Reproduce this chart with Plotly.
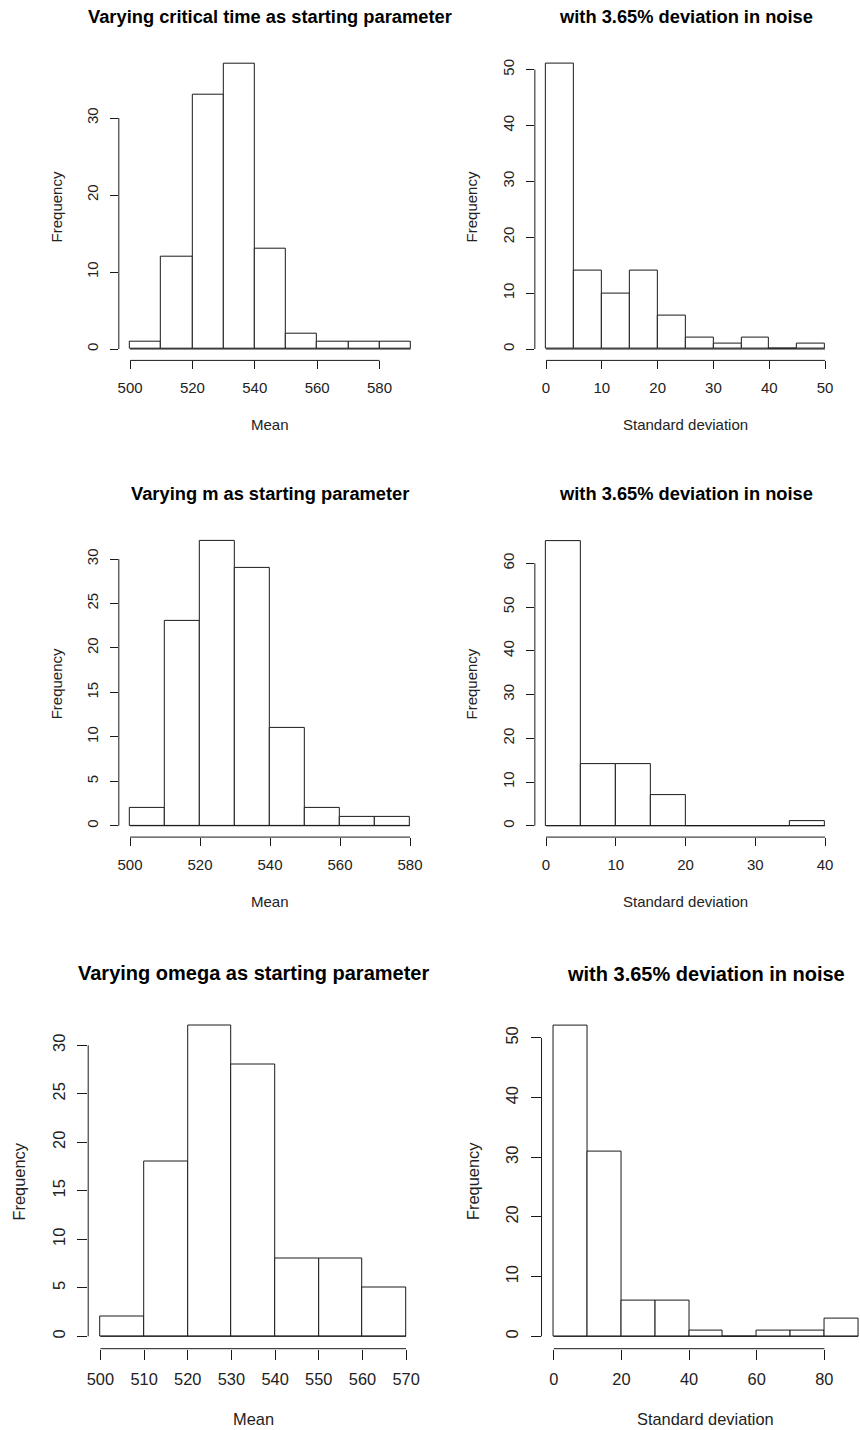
import plotly.graph_objects as go

W, H = 860, 1430

# ---- data ----
crit_breaks = [500, 510, 520, 530, 540, 550, 560, 570, 580, 590]
crit_counts = [1, 12, 33, 37, 13, 2, 1, 1, 1]
crit_sd_breaks = [0, 5, 10, 15, 20, 25, 30, 35, 40, 45, 50]
crit_sd_counts = [51, 14, 10, 14, 6, 2, 1, 2, 0, 1]
m_breaks = [500, 510, 520, 530, 540, 550, 560, 570, 580]
m_counts = [2, 23, 32, 29, 11, 2, 1, 1]
m_sd_breaks = [0, 5, 10, 15, 20, 25, 30, 35, 40]
m_sd_counts = [65, 14, 14, 7, 0, 0, 0, 1]
om_breaks = [500, 510, 520, 530, 540, 550, 560, 570]
om_counts = [2, 18, 32, 28, 8, 8, 5]
om_sd_breaks = [0, 10, 20, 30, 40, 50, 60, 70, 80, 90]
om_sd_counts = [52, 31, 6, 6, 1, 0, 1, 1, 3]

crit_xticks = [500, 520, 540, 560, 580]
crit_yticks = [0, 10, 20, 30]
crit_sd_xticks = [0, 10, 20, 30, 40, 50]
crit_sd_yticks = [0, 10, 20, 30, 40, 50]
m_xticks = [500, 520, 540, 560, 580]
m_yticks = [0, 5, 10, 15, 20, 25, 30]
m_sd_xticks = [0, 10, 20, 30, 40]
m_sd_yticks = [0, 10, 20, 30, 40, 50, 60]
om_xticks = [500, 510, 520, 530, 540, 550, 560, 570]
om_yticks = [0, 5, 10, 15, 20, 25, 30]
om_sd_xticks = [0, 20, 40, 60, 80]
om_sd_yticks = [0, 10, 20, 30, 40, 50]

titles = ["Varying critical time as starting parameter", "with 3.65% deviation in noise",
          "Varying m as starting parameter", "with 3.65% deviation in noise",
          "Varying omega as starting parameter", "with 3.65% deviation in noise"]
xlabels = ["Mean", "Standard deviation", "Mean", "Standard deviation", "Mean", "Standard deviation"]
ylabel = "Frequency"

# ---- layout geometry (pixels) ----
panels = [
    dict(b=crit_breaks, c=crit_counts, xt=crit_xticks, yt=crit_yticks,
         box=(118.1, 421.9, 52.7, 360.4), ty=16, xly=424, yly=56, fs=15, ts=18.3, tl=8),
    dict(b=crit_sd_breaks, c=crit_sd_counts, xt=crit_sd_xticks, yt=crit_sd_yticks,
         box=(535.1, 837.2, 52.6, 360.4), ty=16, xly=424, yly=472, fs=15, ts=18.3, tl=8),
    dict(b=m_breaks, c=m_counts, xt=m_xticks, yt=m_yticks,
         box=(118.1, 421.2, 529.9, 837.1), ty=493, xly=901, yly=56, fs=15, ts=18.3, tl=8),
    dict(b=m_sd_breaks, c=m_sd_counts, xt=m_sd_xticks, yt=m_sd_yticks,
         box=(535.1, 837.2, 530.1, 837.1), ty=493, xly=901, yly=472, fs=15, ts=18.3, tl=8),
    dict(b=om_breaks, c=om_counts, xt=om_xticks, yt=om_yticks,
         box=(87.4, 418.3, 1013.5, 1348.7), ty=973, xly=1419, yly=18.5, fs=16.4, ts=20, tl=10),
    dict(b=om_sd_breaks, c=om_sd_counts, xt=om_sd_xticks, yt=om_sd_yticks,
         box=(541.8, 871.4, 1013.6, 1348.7), ty=974, xly=1419, yly=473, fs=16.4, ts=20, tl=10),
]

LINE = "#1a1a1a"
FONT = "Liberation Sans, Arial, sans-serif"

fig = go.Figure()
shapes = []
annotations = []

for i, p in enumerate(panels):
    k = "" if i == 0 else str(i + 1)
    xa, ya = "x" + k, "y" + k
    b, c = p["b"], p["c"]
    x0p, x1p, y0p, y1p = p["box"]
    span = b[-1] - b[0]
    xr = [b[0] - 0.04 * span, b[-1] + 0.04 * span]
    ymax = max(c)
    yr = [-0.04 * ymax, 1.04 * ymax]
    # clip plot region to canvas
    if x1p > W:
        xr[1] = xr[0] + (xr[1] - xr[0]) * (W - x0p) / (x1p - x0p)
        x1p = W
    centers = [(b[j] + b[j + 1]) / 2 for j in range(len(c))]
    widths = [b[j + 1] - b[j] for j in range(len(c))]
    fig.add_trace(go.Bar(x=centers, y=c, width=widths, xaxis=xa, yaxis=ya,
                         marker=dict(color="white", line=dict(color=LINE, width=1)),
                         showlegend=False, hoverinfo="x+y"))
    # zero-height bins baseline
    fig.add_trace(go.Scatter(x=[b[0], b[-1]], y=[0, 0], mode="lines", xaxis=xa, yaxis=ya,
                             line=dict(color=LINE, width=1), showlegend=False, hoverinfo="skip"))
    common = dict(showgrid=False, zeroline=False, showline=False, ticks="outside",
                  tickcolor=LINE, tickwidth=1, ticklen=p["tl"],
                  tickfont=dict(family=FONT, size=p["fs"], color="#222"), fixedrange=True)
    fig.layout["xaxis" + k] = dict(domain=[x0p / W, x1p / W], range=xr, anchor=ya,
                                   tickvals=p["xt"], ticktext=[str(v) for v in p["xt"]],
                                   ticklabelstandoff=6, **common)
    fig.layout["yaxis" + k] = dict(domain=[1 - y1p / H, 1 - y0p / H], range=yr, anchor=xa,
                                   tickvals=p["yt"], ticktext=[str(v) for v in p["yt"]],
                                   tickangle=-90, ticklabelstandoff=6, **common)
    shapes.append(dict(type="line", xref=xa, yref=ya + " domain", x0=p["xt"][0], x1=p["xt"][-1],
                       y0=0, y1=0, line=dict(color=LINE, width=1)))
    shapes.append(dict(type="line", xref=xa + " domain", yref=ya, x0=0, x1=0,
                       y0=p["yt"][0], y1=p["yt"][-1], line=dict(color=LINE, width=1)))
    cx = (p["box"][0] + p["box"][1]) / 2
    cy = (y0p + y1p) / 2
    annotations.append(dict(text="<b>" + titles[i] + "</b>", xref="paper", yref="paper",
                            x=cx / W, y=1 - p["ty"] / H, xanchor="center", yanchor="middle",
                            showarrow=False, font=dict(family=FONT, size=p["ts"], color="black")))
    annotations.append(dict(text=xlabels[i], xref="paper", yref="paper",
                            x=cx / W, y=1 - p["xly"] / H, xanchor="center", yanchor="middle",
                            showarrow=False, font=dict(family=FONT, size=p["fs"], color="#222")))
    annotations.append(dict(text=ylabel, xref="paper", yref="paper", textangle=-90,
                            x=p["yly"] / W, y=1 - cy / H, xanchor="center", yanchor="middle",
                            showarrow=False, font=dict(family=FONT, size=p["fs"], color="#222")))

fig.update_layout(width=W, height=H, margin=dict(l=0, r=0, t=0, b=0),
                  paper_bgcolor="white", plot_bgcolor="white",
                  shapes=shapes, annotations=annotations, bargap=0, showlegend=False)
fig.write_html("out.html", config={"displayModeBar": False},
               post_script="document.body.style.margin='0px';document.body.style.overflow='hidden';")
